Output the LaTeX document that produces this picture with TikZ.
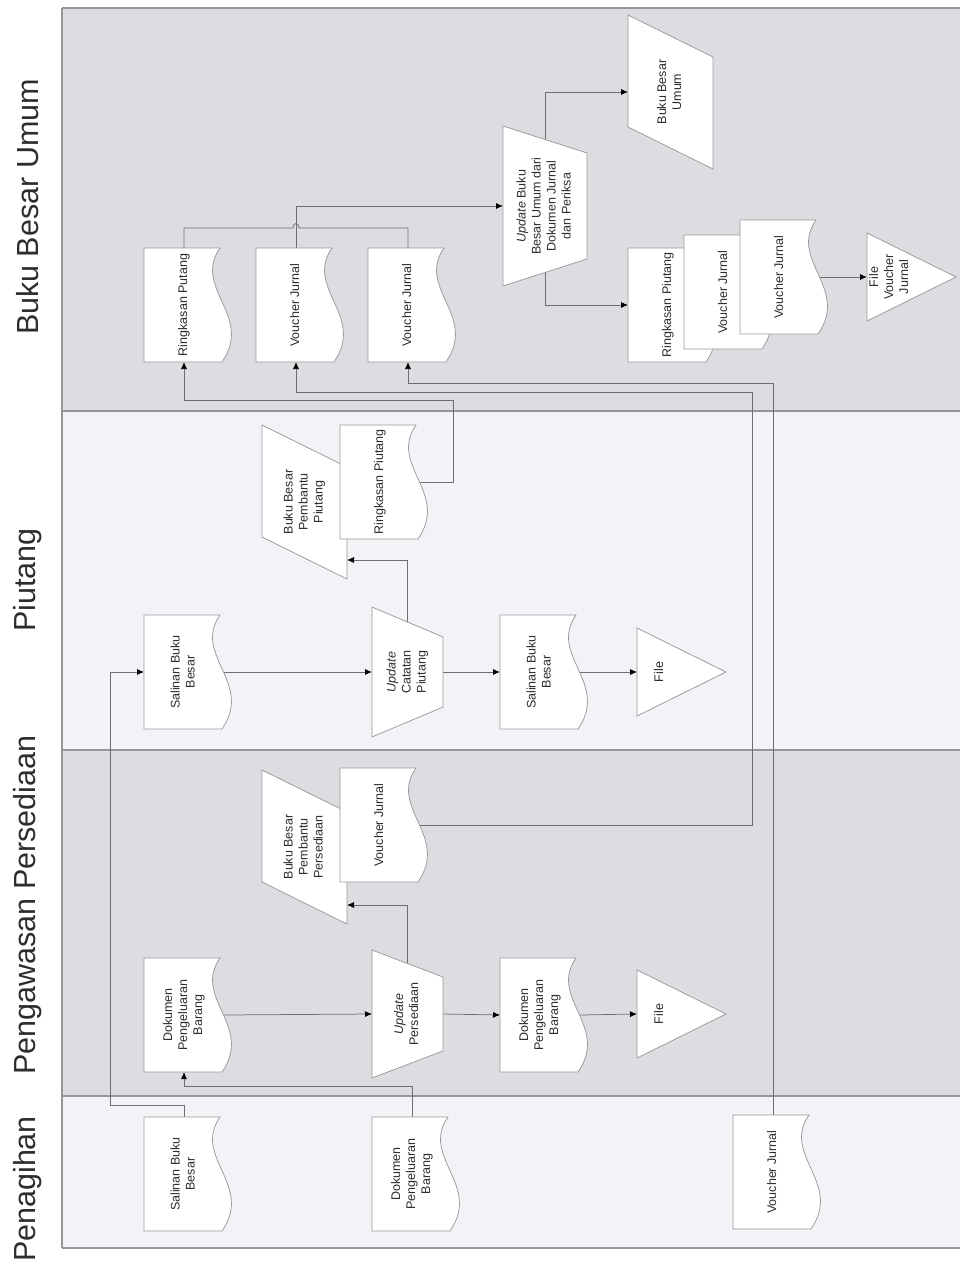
\documentclass[tikz,border=0pt]{standalone}
\usepackage{fontspec}
\setmainfont{Liberation Sans}
\usepackage{graphicx}
\usetikzlibrary{arrows.meta}

\definecolor{lanedark}{RGB}{220,221,225}
\definecolor{lanelight}{RGB}{241,243,246}
\definecolor{laneline}{RGB}{150,150,153}
\definecolor{ink}{RGB}{45,45,45}
\definecolor{wire}{RGB}{110,110,113}

\pgfdeclarelayer{lanes}
\pgfdeclarelayer{wires}
\pgfsetlayers{lanes,wires,main}

% rotated multi-line text
\newcommand{\vtext}[1]{\rotatebox{90}{\begin{tabular}{@{}c@{}}#1\end{tabular}}}
% document: name, left x, top y, text
\newcommand{\docu}[4]{%
	\filldraw[symb] (#2,#3) -- ++(0,114) -- ++(78,0) .. controls +(32,-46) and +(-28,40) .. ++(-2,-114) -- cycle;
	\node[boxtxt, minimum width=80pt, minimum height=114pt] (#1) at (#2+40,#3+57) {\vtext{#4}\hspace{12pt}};}
% ledger: name, left x, top y, text
\newcommand{\ledger}[4]{%
	\filldraw[symb] (#2,#3) -- ++(85,42) -- ++(0,112) -- ++(-85,-42) -- cycle;
	\node[boxtxt, minimum width=85pt, minimum height=154pt] (#1) at (#2+42.5,#3+77) {\vtext{#4}};}
% manual operation: name, left x, top y, width, height, inset, text
\newcommand{\manual}[7]{%
	\filldraw[symb] (#2,#3) -- ++(#4,#6) -- ++(0,#5-2*#6) -- ++(-#4,#6) -- cycle;
	\node[boxtxt, minimum width=#4pt, minimum height=#5pt] (#1) at (#2+#4/2,#3+#5/2) {\vtext{#7}};}
% file: name, left x, top y, text
\newcommand{\filetri}[4]{%
	\filldraw[symb] (#2,#3) -- ++(89,44) -- ++(-89,44) -- cycle;
	\node[boxtxt, minimum width=89pt, minimum height=88pt] (#1) at (#2+44.5,#3+44) {};
	\node[boxtxt] (#1-txt) at (#2+23,#3+44) {\vtext{#4}};}

\begin{document}
\begin{tikzpicture}[x=1pt, y=-1pt,
	symb/.style={draw=gray!80, fill=white, line width=0.75pt},
	boxtxt/.style={inner sep=0pt, outer sep=0pt, text=ink, font=\fontsize{12.5}{15}\selectfont},
	conn/.style={draw=wire, line width=0.75pt},
	arr/.style={conn, -{Latex[length=7pt,width=6pt,color=black]}},
	lanetitle/.style={rotate=90, text=ink, font=\fontsize{30.5}{36}\selectfont}]
	\useasboundingbox (0,0) rectangle (960,1266);

	\begin{pgfonlayer}{lanes}
		\fill[lanedark] (62,8) rectangle (965,411);
		\fill[lanelight] (62,411) rectangle (965,750);
		\fill[lanedark] (62,750) rectangle (965,1096);
		\fill[lanelight] (62,1096) rectangle (965,1248);
		\foreach \y in {8,411,750,1096,1248} {\draw[laneline, line width=1.3pt] (62,\y) -- (965,\y);}
		\draw[laneline, line width=1.3pt] (62,8) -- (62,1248);
	\end{pgfonlayer}

	\node[lanetitle] (tbbu) at (28,207) {Buku Besar Umum};
	\node[lanetitle] (tpiu) at (28,580) {Piutang};
	\node[lanetitle] (tpgw) at (28,905) {Pengawasan Persediaan};
	\node[lanetitle] (tpgh) at (28,1189) {Penagihan};

	% Buku Besar Umum
	\docu{rpa}{144}{248}{Ringkasan Putang}
	\docu{vja}{256}{248}{Voucher Jurnal}
	\docu{vjb}{368}{248}{Voucher Jurnal}
	\manual{ubb}{503}{126}{84}{160}{27}{\textit{Update} Buku\\Besar Umum dari\\Dokumen Jurnal\\dan Periksa}
	\ledger{bbu}{628}{15}{Buku Besar\\Umum}
	\docu{rpc}{628}{248}{Ringkasan Piutang}
	\docu{vje}{684}{235}{Voucher Jurnal}
	\docu{vjf}{740}{220}{Voucher Jurnal}
	\filetri{fvj}{867}{233}{File\\Voucher\\Jurnal}

	% Piutang
	\docu{sbb}{144}{615}{Salinan Buku\\Besar}
	\manual{ucp}{372}{607}{71}{130}{30}{\textit{Update}\\Catatan\\Piutang}
	\docu{sbc}{500}{615}{Salinan Buku\\Besar}
	\filetri{fpa}{637}{628}{File}
	\ledger{bbpp}{262}{425}{Buku Besar\\Pembantu\\Piutang}
	\docu{rpb}{340}{425}{Ringkasan Piutang}

	% Pengawasan Persediaan
	\docu{dpb}{144}{958}{Dokumen\\Pengeluaran\\Barang}
	\manual{ups}{372}{950}{71}{128}{27}{\textit{Update}\\Persediaan}
	\docu{dpc}{500}{958}{Dokumen\\Pengeluaran\\Barang}
	\filetri{fpb}{637}{970}{File}
	\ledger{bbps}{262}{770}{Buku Besar\\Pembantu\\Persediaan}
	\docu{vjc}{340}{768}{Voucher Jurnal}

	% Penagihan
	\docu{sba}{144}{1117}{Salinan Buku\\Besar}
	\docu{dpa}{372}{1117}{Dokumen\\Pengeluaran\\Barang}
	\docu{vjd}{733}{1115}{Voucher Jurnal}

	\begin{pgfonlayer}{wires}
		\draw[arr] (sba.north) |- (110,1105) |- (sbb.west);
		\draw[arr] (dpa.north) -- ++(0,-31) -| (dpb.south);
		\draw[arr] (sbb.east) -- (ucp.west);
		\draw[arr] (ucp.east) -- (sbc.west);
		\draw[arr] (sbc.east) -- (fpa.west);
		\draw[arr] (ucp.center) |- ([yshift=19pt]bbpp.south east);
		\draw[arr] (dpb.east) -- (ups.west);
		\draw[arr] (ups.east) -- (dpc.west);
		\draw[arr] (dpc.east) -- (fpb.west);
		\draw[arr] (ups.center) |- ([yshift=19pt]bbps.south east);
		\draw[arr] (rpb.east) -| (453,400) -| (rpa.south);
		\draw[arr] (vjc.east) -| (752,392) -| (vja.south);
		\draw[arr] (vjd.north) |- (vjb.south |- 0,383) -- (vjb.south);
		\draw[conn] (rpa.north) |- (293,228) .. controls (293,222) and (299,222) .. (299,228) -| (vjb.north);
		\draw[arr] (vja.north) |- (ubb.west);
		\draw[arr] (ubb.center) |- (bbu.west);
		\draw[arr] (ubb.center) |- (rpc.west);
		\draw[arr] (vjf.east) -- (fvj.west);
	\end{pgfonlayer}
\end{tikzpicture}
\end{document}
